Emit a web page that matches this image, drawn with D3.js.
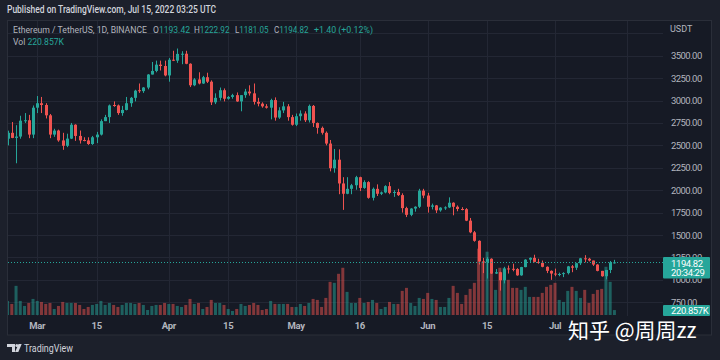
<!DOCTYPE html>
<html><head><meta charset="utf-8">
<script src="https://cdn.jsdelivr.net/npm/d3@7"></script>
<style>html,body{margin:0;padding:0;background:#1c202b;}svg{display:block}</style>
</head><body>
<svg id="c" width="720" height="360"></svg>
<script>
const dates = [
"2022-02-22","2022-02-23","2022-02-24","2022-02-25","2022-02-26","2022-02-27","2022-02-28",
"2022-03-01","2022-03-02","2022-03-03","2022-03-04","2022-03-05","2022-03-06","2022-03-07","2022-03-08","2022-03-09","2022-03-10",
"2022-03-11","2022-03-12","2022-03-13","2022-03-14","2022-03-15","2022-03-16","2022-03-17","2022-03-18","2022-03-19","2022-03-20",
"2022-03-21","2022-03-22","2022-03-23","2022-03-24","2022-03-25","2022-03-26","2022-03-27","2022-03-28","2022-03-29","2022-03-30","2022-03-31",
"2022-04-01","2022-04-02","2022-04-03","2022-04-04","2022-04-05","2022-04-06","2022-04-07","2022-04-08","2022-04-09","2022-04-10",
"2022-04-11","2022-04-12","2022-04-13","2022-04-14","2022-04-15","2022-04-16","2022-04-17","2022-04-18","2022-04-19","2022-04-20",
"2022-04-21","2022-04-22","2022-04-23","2022-04-24","2022-04-25","2022-04-26","2022-04-27","2022-04-28","2022-04-29","2022-04-30",
"2022-05-01","2022-05-02","2022-05-03","2022-05-04","2022-05-05","2022-05-06","2022-05-07","2022-05-08","2022-05-09","2022-05-10",
"2022-05-11","2022-05-12","2022-05-13","2022-05-14","2022-05-15","2022-05-16","2022-05-17","2022-05-18","2022-05-19","2022-05-20",
"2022-05-21","2022-05-22","2022-05-23","2022-05-24","2022-05-25","2022-05-26","2022-05-27","2022-05-28","2022-05-29","2022-05-30","2022-05-31",
"2022-06-01","2022-06-02","2022-06-03","2022-06-04","2022-06-05","2022-06-06","2022-06-07","2022-06-08","2022-06-09","2022-06-10",
"2022-06-11","2022-06-12","2022-06-13","2022-06-14","2022-06-15","2022-06-16","2022-06-17","2022-06-18","2022-06-19","2022-06-20",
"2022-06-21","2022-06-22","2022-06-23","2022-06-24","2022-06-25","2022-06-26","2022-06-27","2022-06-28","2022-06-29","2022-06-30",
"2022-07-01","2022-07-02","2022-07-03","2022-07-04","2022-07-05","2022-07-06","2022-07-07","2022-07-08","2022-07-09","2022-07-10",
"2022-07-11","2022-07-12","2022-07-13","2022-07-14","2022-07-15"];

const open = [2574,2640,2583,2598,2775,2780,2620,
2920,2970,2950,2835,2620,2665,2555,2495,2575,2730,2605,2560,2555,2515,2590,2620,2770,2815,2950,2945,2860,2895,2970,3030,3115,3105,3145,3290,3330,3400,3385,
3280,3455,3445,3520,3522,3410,3170,3235,3190,3260,3210,2980,3030,3115,3020,3040,3060,2990,3060,3100,3080,2985,2965,2935,2920,3005,2810,2890,2935,2815,
2730,2825,2855,2780,2940,2750,2695,2640,2520,2245,2340,2075,1960,2015,2055,2145,2025,2090,1915,2015,1960,1975,2045,1970,1980,1945,1800,1725,1795,1815,1995,
1940,1815,1830,1775,1805,1808,1860,1815,1790,1788,1660,1530,1435,1205,1200,1235,1070,1085,995,1127,1123,1120,1050,1142,1225,1245,1200,1190,1145,1100,
1070,1060,1065,1075,1150,1135,1185,1240,1235,1215,1170,1100,1040,1110,1193.42];

const high = [2664,2760,2725,2830,2860,2840,2945,
3050,3040,2970,2850,2685,2675,2640,2630,2750,2735,2665,2590,2590,2605,2650,2790,2840,2955,2990,2955,2940,3040,3040,3120,3190,3150,3295,3430,3445,3445,3445,
3475,3555,3580,3550,3555,3415,3250,3315,3275,3310,3225,3080,3145,3135,3050,3075,3090,3060,3130,3170,3190,3030,2980,2960,3020,3035,2925,2985,2960,2840,
2855,2890,2880,2955,2950,2755,2710,2655,2560,2460,2455,2145,2145,2070,2160,2150,2110,2100,2030,2065,1985,2055,2090,2000,2015,1965,1815,1800,1820,2015,2015,
1970,1850,1835,1810,1820,1920,1865,1830,1810,1800,1690,1545,1440,1245,1255,1240,1120,1090,1145,1160,1180,1130,1145,1230,1250,1280,1235,1215,1150,1105,
1125,1080,1085,1155,1165,1190,1245,1275,1245,1215,1175,1100,1110,1210,1222.92];

const low = [2500,2580,2300,2574,2750,2580,2580,
2860,2860,2800,2580,2595,2540,2450,2480,2570,2550,2520,2545,2505,2505,2525,2610,2770,2750,2930,2840,2830,2890,2930,2990,3085,3085,3125,3290,3315,3335,3270,
3210,3440,3420,3405,3405,3150,3160,3180,3185,3195,2950,2960,3000,2990,3010,3020,2985,2880,3030,3055,2955,2935,2920,2910,2790,2775,2795,2860,2775,2720,
2715,2775,2760,2755,2705,2630,2620,2500,2210,2195,1955,1780,1955,1955,2005,1990,2015,1905,1885,1935,1945,1965,1955,1925,1935,1750,1700,1710,1760,1800,1910,
1750,1785,1745,1760,1780,1800,1720,1765,1775,1655,1520,1425,1170,1075,1015,1065,1065,880,960,1070,1095,1045,1045,1140,1200,1195,1180,1140,1075,1000,
1040,1040,1030,1060,1085,1110,1165,1195,1205,1155,1095,1035,1005,1075,1181.05];

const close = [2640,2583,2598,2775,2780,2620,2920,
2970,2950,2835,2620,2665,2555,2495,2575,2730,2605,2555,2555,2515,2590,2620,2770,2815,2945,2945,2860,2895,2970,3030,3110,3105,3145,3290,3330,3400,3385,3280,
3455,3445,3520,3522,3410,3170,3235,3190,3260,3210,2980,3030,3115,3020,3040,3060,2990,3060,3100,3080,2985,2965,2935,2920,3005,2810,2890,2935,2815,2730,
2825,2855,2780,2940,2750,2695,2640,2520,2245,2340,2075,1960,2015,2055,2145,2025,2090,1915,2015,1960,1975,2045,1970,1980,1945,1800,1725,1795,1815,1995,1940,
1815,1830,1775,1805,1808,1860,1815,1790,1788,1660,1530,1435,1205,1200,1235,1070,1085,995,1125,1123,1120,1050,1142,1225,1245,1200,1190,1145,1100,1070,
1060,1065,1075,1150,1135,1185,1240,1235,1215,1170,1100,1040,1110,1193,1194.82];

// volume in thousands of ETH
const volume = [630,495,1305,630,405,540,720,
630,585,495,540,270,405,585,540,540,540,450,270,360,450,495,630,450,540,450,360,450,540,540,495,540,450,225,405,450,450,540,
495,495,405,360,450,720,495,540,270,360,675,540,540,450,270,180,270,495,405,450,540,450,225,270,630,495,495,495,495,360,
360,495,405,540,720,675,360,765,1485,1440,1845,2115,1035,540,540,765,540,585,675,540,270,360,585,495,495,1080,1215,540,405,765,720,
990,720,675,360,360,765,1305,990,495,900,1170,1440,2970,2385,2835,1890,1125,2115,2115,1575,1215,1215,1125,1260,810,810,810,990,1260,1350,
1440,675,585,1080,1260,1080,765,1125,540,945,1125,1170,2160,1485,220.857];

const priceTicks = [750,1000,1250,1500,1750,2000,2250,2500,2750,3000,3250,3500];
const gridPrices = [750,1000,1250,1500,1750,2000,2250,2500,2750,3000,3250,3500,3750];
const timeTicks = ["2022-03-01","2022-03-15","2022-04-01","2022-04-15","2022-05-01","2022-05-16","2022-06-01","2022-06-15","2022-07-01","2022-07-18"];
const timeLabels = ["Mar","15","Apr","15","May","16","Jun","15","Jul",""];

const UP = "#26a69a", DOWN = "#ef5350", GRAY = "#b2b5be";
const svg = d3.select("#c");
const F = "Roboto, 'Liberation Sans', sans-serif";

// frame
svg.append("rect").attr("width",720).attr("height",360).attr("fill","#1c202b");
svg.append("rect").attr("x",7.5).attr("y",20.5).attr("width",704).attr("height",314.5)
  .attr("fill","#161a25").attr("stroke","#2a2e39");

const x = d3.scaleUtc().domain([new Date("2022-03-01"), new Date("2022-07-01")]).range([37.25, 555]);
const y = d3.scaleLinear().domain([1500, 3500]).range([235, 55.7]);
const yv = d3.scaleLinear().domain([0, 3000]).range([315, 248]);

svg.append("clipPath").attr("id","pane").append("rect").attr("x",8).attr("y",21).attr("width",655).attr("height",295);

// grid
const grid = svg.append("g").attr("stroke","#232734").attr("stroke-width",1);
grid.selectAll("line.h").data(gridPrices).join("line")
  .attr("x1",8).attr("x2",663).attr("y1",d=>Math.round(y(d))+0.5).attr("y2",d=>Math.round(y(d))+0.5);
grid.selectAll("line.v").data(timeTicks).join("line")
  .attr("x1",d=>Math.round(x(new Date(d)))+0.5).attr("x2",d=>Math.round(x(new Date(d)))+0.5)
  .attr("y1",21).attr("y2",316);

const data = dates.map((d,i)=>({t:new Date(d),o:open[i],h:high[i],l:low[i],c:close[i],v:volume[i]}));
const plot = svg.append("g").attr("clip-path","url(#pane)");

// volume
plot.selectAll("rect.vol").data(data).join("rect")
  .attr("x",d=>x(d.t)-1.5).attr("width",3)
  .attr("y",d=>yv(d.v)).attr("height",d=>yv(0)-yv(d.v))
  .attr("fill",d=>d.c>=d.o?"rgba(38,166,154,0.5)":"rgba(239,83,80,0.5)");

// wicks
plot.selectAll("line.wick").data(data).join("line")
  .attr("x1",d=>Math.round(x(d.t))+0.5).attr("x2",d=>Math.round(x(d.t))+0.5)
  .attr("y1",d=>y(d.h)).attr("y2",d=>y(d.l))
  .attr("stroke",d=>d.c>=d.o?UP:DOWN).attr("stroke-width",1);
// bodies
plot.selectAll("rect.body").data(data).join("rect")
  .attr("x",d=>Math.round(x(d.t))-1).attr("width",3)
  .attr("y",d=>y(Math.max(d.o,d.c)))
  .attr("height",d=>Math.max(1,Math.abs(y(d.o)-y(d.c))))
  .attr("fill",d=>d.c>=d.o?UP:DOWN);

// last price line
const last = data[data.length-1];
svg.append("line").attr("x1",8).attr("x2",663)
  .attr("y1",Math.round(y(last.c))+0.5).attr("y2",Math.round(y(last.c))+0.5)
  .attr("stroke",UP).attr("stroke-dasharray","1,2").attr("stroke-width",1);

// price axis labels (labels under the price boxes are clipped to their visible part, as in the reference)
svg.append("clipPath").attr("id","axisvis").append("path")
  .attr("d","M663,21 H712 V257 H663 Z M663,278.5 H712 V305 H663 Z");
svg.append("g").attr("clip-path","url(#axisvis)")
  .selectAll("text").data(priceTicks).join("text")
  .attr("x",671).attr("y",d=>y(d)+3.5)
  .attr("font-family",F).attr("font-size",9.5).attr("letter-spacing",-0.55)
  .attr("fill",GRAY).text(d=>d3.format(".2f")(d));
svg.append("text").attr("x",670).attr("y",32).attr("font-family",F).attr("font-size",9)
  .attr("fill",GRAY).text("USDT");

// last price box
svg.append("rect").attr("x",663).attr("y",257).attr("width",47).attr("height",21.5).attr("rx",1).attr("fill",UP);
svg.append("text").attr("x",671).attr("y",266.5).attr("font-family",F).attr("font-size",9.5).attr("letter-spacing",-0.4)
  .attr("fill","#ffffff").text(d3.format(".2f")(last.c));
svg.append("text").attr("x",671).attr("y",275.5).attr("font-family",F).attr("font-size",9.5).attr("letter-spacing",-0.4)
  .attr("fill","#ffffff").text("20:34:29");
svg.append("rect").attr("x",663).attr("y",305).attr("width",47).attr("height",11).attr("rx",1).attr("fill",UP);
svg.append("text").attr("x",671).attr("y",313.5).attr("font-family",F).attr("font-size",9.5).attr("letter-spacing",-0.4)
  .attr("fill","#ffffff").text(d3.format(".3f")(last.v)+"K");

// time axis labels
svg.selectAll("text.t").data(timeTicks).join("text")
  .attr("x",d=>x(new Date(d))).attr("y",328.5).attr("text-anchor","middle")
  .attr("font-family",F).attr("font-size",9.5).attr("font-weight","bold").attr("letter-spacing",-0.3)
  .attr("fill",GRAY).text((d,i)=>timeLabels[i]);

// title
svg.append("text").attr("x",7).attr("y",13).attr("font-family",F).attr("font-size",10.5).attr("font-weight",500)
  .attr("fill","#d1d4dc").attr("textLength",209).attr("lengthAdjust","spacingAndGlyphs")
  .text("Published on TradingView.com, Jul 15, 2022 03:25 UTC");

// legend (one text element per field, label in gray, value in teal)
const lg = (parts,x0,w,yy)=>{
  const t = svg.append("text").attr("x",x0).attr("y",yy).attr("font-family",F).attr("font-size",8.7)
    .attr("textLength",w).attr("lengthAdjust","spacingAndGlyphs");
  parts.forEach(p=>t.append("tspan").attr("fill",p[1]).text(p[0]));
};
lg([["Ethereum / TetherUS, 1D, BINANCE",GRAY]],13,134,33);
lg([["O",GRAY],[d3.format(".2f")(last.o),UP]],153,37,33);
lg([["H",GRAY],[d3.format(".2f")(last.h),UP]],194,35.5,33);
lg([["L",GRAY],[d3.format(".2f")(last.l),UP]],235,33.5,33);
lg([["C",GRAY],[d3.format(".2f")(last.c),UP]],274,34.5,33);
lg([["+1.40 (+0.12%)",UP]],314,59,33);
lg([["Vol ",GRAY],[d3.format(".3f")(last.v)+"K",UP]],13,51,45);

// TradingView logo
const logo = svg.append("g").attr("fill","#d1d4dc");
logo.append("path").attr("d","M7,344 h8 v8 h-3 v-5 h-5 z");
logo.append("circle").attr("cx",16.8).attr("cy",345.6).attr("r",1.5);
logo.append("path").attr("d","M18.5,344 h3.2 l-3.4,8 h-3.2 z");
svg.append("text").attr("x",24).attr("y",352).attr("font-family",F).attr("font-size",11)
  .attr("fill","#d1d4dc").attr("textLength",49).attr("lengthAdjust","spacingAndGlyphs").text("TradingView");

// watermark
svg.append("text").attr("x",568).attr("y",338).attr("font-family","'Noto Sans CJK SC', sans-serif")
  .attr("font-size",21).attr("fill","#ffffff").text("知乎 @周周zz");
</script>
</body></html>
